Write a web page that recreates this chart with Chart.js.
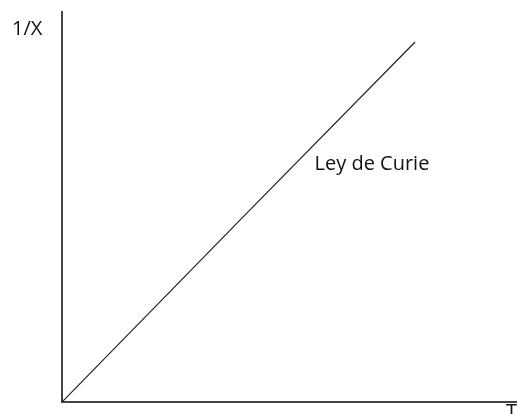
<!DOCTYPE html>
<html>
<head>
<meta charset="utf-8">
<script src="https://cdn.jsdelivr.net/npm/chart.js@4"></script>
<style>
    body { margin: 0; background: #fff; }
    #wrap { width: 517px; height: 414px; }
</style>
</head>
<body>
<div id="wrap"><canvas id="curieChart" width="517" height="414"></canvas></div>
<script>
// Datos de la recta (T, 1/X) en unidades arbitrarias
const temperaturas = [0, 39, 77.6];
const inversaSusceptibilidad = [0, 46.5, 92.3];

// Textos del gráfico
const tituloY = '1/X';
const tituloX = 'T';
const etiquetaRecta = 'Ley de Curie';
const posEtiqueta = [55.5, 59.6]; // donde va la etiqueta, en coordenadas de datos

const fuente = '20px "Open Sans", sans-serif';

// Plugin sencillo para poner los textos sueltos
const textosPlugin = {
    id: 'textos',
    afterDraw(chart) {
        const ctx = chart.ctx;
        const xs = chart.scales.x;
        const ys = chart.scales.y;
        ctx.save();
        ctx.fillStyle = '#111111';
        ctx.font = fuente;
        ctx.textBaseline = 'alphabetic';
        ctx.textAlign = 'left';
        // eje Y
        ctx.fillText(tituloY, 12, 35);
        // eje X (queda cortado abajo como en el original)
        ctx.fillText(tituloX, xs.right - 11, ys.bottom + 16);
        // etiqueta de la recta
        ctx.fillText(etiquetaRecta, xs.getPixelForValue(posEtiqueta[0]), ys.getPixelForValue(posEtiqueta[1]));
        ctx.restore();
    }
};

const ctx = document.getElementById('curieChart').getContext('2d');
new Chart(ctx, {
    type: 'scatter',
    data: {
        datasets: [{
            data: temperaturas.map((t, i) => ({ x: t, y: inversaSusceptibilidad[i] })),
            showLine: true,
            borderColor: '#222222',
            borderWidth: 1.2,
            pointRadius: 0,
            tension: 0
        }]
    },
    options: {
        responsive: false,
        animation: false,
        layout: {
            padding: { left: 54, top: 12, right: 0, bottom: 4 }
        },
        scales: {
            x: {
                type: 'linear',
                min: 0,
                max: 100,
                grid: { display: false },
                ticks: { display: false },
                border: { display: true, color: '#444444', width: 2 }
            },
            y: {
                type: 'linear',
                min: 0,
                max: 100,
                grid: { display: false },
                ticks: { display: false },
                border: { display: true, color: '#444444', width: 2 }
            }
        },
        plugins: {
            legend: { display: false },
            tooltip: { enabled: false }
        }
    },
    plugins: [textosPlugin]
});
</script>
</body>
</html>
